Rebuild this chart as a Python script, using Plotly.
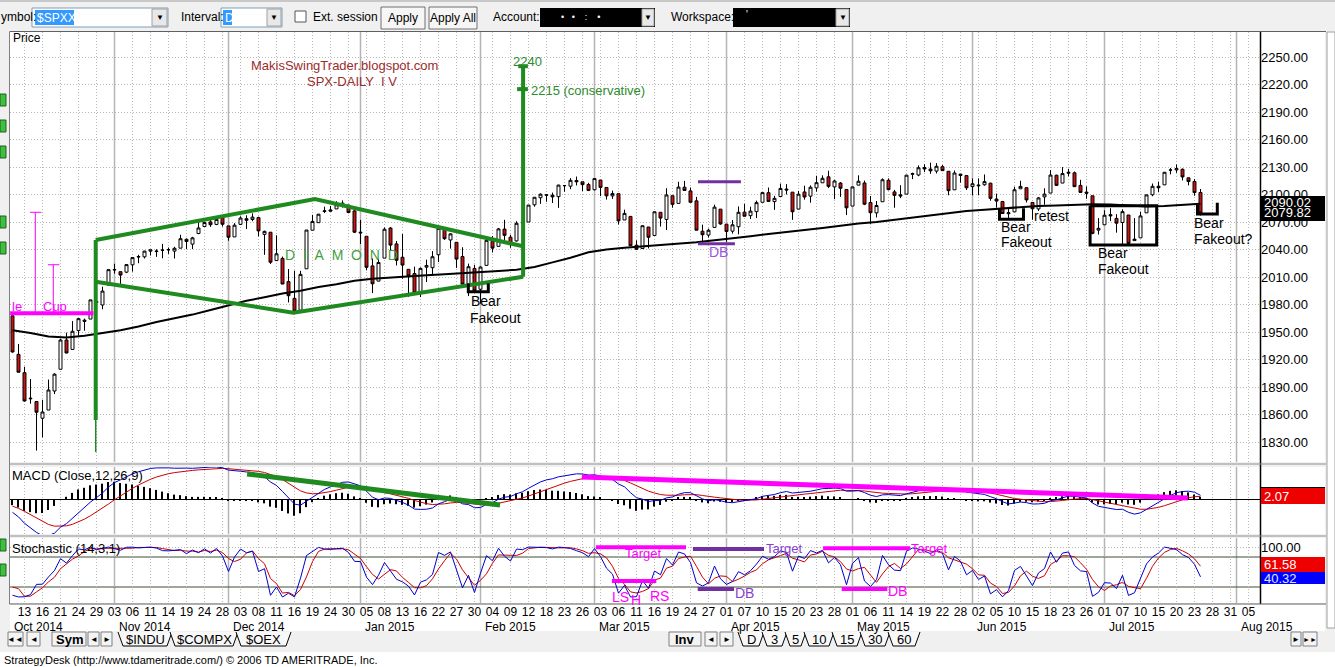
import pandas as pd
import numpy as np
import plotly.graph_objects as go

W, H = 1335, 667
FONT = "Liberation Sans, Arial, sans-serif"

# ---------------- data ----------------
holidays = ["2014-11-27", "2014-12-25", "2015-01-01", "2015-01-19",
            "2015-02-16", "2015-04-03", "2015-05-25", "2015-07-03"]
all_days = [d for d in pd.bdate_range("2014-10-09", "2015-08-05")
            if d.strftime("%Y-%m-%d") not in holidays]

open_ = [1967.68,1925.63,1905.65,1877.11,1874.18,1855.95,1864.91,1885.62,1909.38,1941.29,1931.02,1951.59,1962.97,1964.14,1983.29,1979.49,2001.20,
 2018.21,2015.81,2015.29,2023.33,2032.36,2032.01,2038.20,2037.75,2039.21,2039.74,2038.29,2041.48,2051.16,2045.87,2057.46,2065.07,2070.15,2067.36,2074.78,
 2065.78,2053.77,2067.45,2073.64,2072.78,2074.84,2056.55,2058.86,2027.92,2030.36,2005.03,1986.71,1973.77,2018.98,2061.04,2069.28,2081.48,2083.25,2084.30,2087.63,2088.49,2082.11,
 2058.90,2054.44,2022.15,2005.55,2030.61,2063.45,2046.13,2031.58,2018.40,2013.75,1992.25,2020.76,2020.19,2034.30,2062.98,2050.42,2047.86,2032.34,2002.45,2019.35,
 1996.67,2022.71,2048.86,2043.45,2062.28,2053.47,2049.38,2068.55,2069.98,2088.78,2096.47,2099.16,2099.25,2097.65,2109.83,2109.10,2115.30,2113.91,2110.88,
 2105.23,2115.76,2107.72,2098.54,2100.91,2072.25,2076.14,2044.69,2041.10,2064.56,2055.35,2080.59,2072.84,2098.69,2090.32,2107.99,2103.94,2093.10,2059.94,2055.78,2064.11,2084.05,
 2067.63,2060.03,2064.87,2080.79,2076.94,2081.29,2091.51,2102.03,2092.28,2097.82,2105.96,2102.58,2084.11,2102.82,2098.27,2107.21,2112.80,2119.29,2108.35,2112.49,2105.52,
 2087.38,2110.23,2112.63,2091.26,2079.96,2092.13,2115.56,2102.87,2099.62,2100.43,2122.07,2121.30,2129.45,2127.79,2125.55,2130.36,2125.34,2105.13,2122.27,2120.66,
 2108.64,2110.41,2110.64,2112.35,2095.09,2092.34,2079.07,2081.12,2106.24,2107.43,2091.34,2084.26,2097.40,2101.58,2121.06,2112.50,2123.16,2123.65,2109.96,2102.62,2098.63,2061.19,
 2067.00,2078.03,2073.95,2069.52,2077.66,2049.73,2052.74,2080.03,2099.72,2109.01,2110.55,2126.80,2126.85,2127.55,2118.21,2114.16,2102.24]
high = [1967.68,1936.98,1912.09,1898.71,1874.18,1876.01,1898.16,1905.03,1942.45,1949.31,1961.95,1965.27,1964.64,1985.05,1991.40,1999.40,2018.19,
 2024.46,2015.98,2023.77,2031.61,2034.26,2038.70,2039.82,2040.33,2046.18,2042.22,2043.07,2056.08,2052.14,2053.84,2071.46,2070.17,2074.21,2073.29,2075.76,
 2065.78,2068.77,2076.28,2077.34,2079.47,2075.78,2060.60,2058.86,2055.53,2032.25,2018.69,2016.89,2016.75,2061.23,2077.85,2078.76,2086.73,2087.56,2092.70,2093.55,2088.49,2085.58,
 2072.36,2054.44,2030.25,2029.61,2064.08,2064.43,2049.30,2056.93,2018.40,2021.35,2020.46,2028.94,2038.29,2064.62,2062.98,2057.62,2047.86,2042.49,2024.64,2023.32,
 2021.66,2050.30,2054.74,2063.55,2072.40,2056.16,2070.86,2073.48,2088.53,2097.03,2101.30,2100.23,2102.13,2110.61,2110.05,2117.94,2119.59,2113.91,2112.74,
 2117.52,2115.76,2107.72,2104.25,2100.91,2083.49,2076.14,2050.08,2066.41,2064.56,2081.41,2080.59,2106.85,2098.69,2113.92,2114.86,2107.63,2097.43,2067.15,2062.83,2088.97,2084.05,
 2067.63,2072.17,2086.99,2089.81,2086.69,2093.31,2102.61,2107.65,2098.62,2111.91,2111.30,2102.58,2103.94,2109.64,2109.98,2120.49,2120.92,2125.92,2116.04,2113.65,2105.52,
 2108.41,2120.95,2115.24,2098.42,2092.90,2117.66,2117.69,2105.06,2110.19,2121.45,2123.89,2131.78,2133.02,2134.72,2134.28,2132.15,2125.34,2126.22,2122.27,2120.66,
 2117.61,2117.59,2121.92,2112.89,2100.99,2093.01,2085.62,2108.50,2115.02,2107.43,2091.34,2097.40,2106.79,2126.65,2121.64,2129.87,2128.03,2125.10,2116.04,2108.92,2098.63,2074.28,
 2082.78,2085.06,2078.61,2083.74,2077.66,2074.28,2081.31,2099.88,2111.98,2114.14,2124.42,2128.91,2132.82,2128.49,2118.51,2116.87,2106.01]
low = [1927.56,1906.05,1874.14,1871.79,1820.66,1835.02,1864.91,1882.30,1909.38,1926.83,1931.02,1946.27,1951.37,1964.14,1969.04,1974.75,2001.20,
 2013.68,2001.01,2014.42,2015.86,2025.07,2030.17,2033.42,2031.95,2030.44,2035.20,2030.20,2041.48,2040.37,2040.49,2056.75,2065.07,2064.75,2066.62,2065.06,
 2049.57,2053.77,2066.65,2062.34,2070.81,2054.27,2034.17,2024.26,2027.92,2002.33,1982.26,1972.56,1973.77,2018.98,2061.03,2069.28,2079.77,2081.86,2084.30,2085.75,2079.53,2057.94,
 2046.04,2017.34,1992.44,2005.55,2030.61,2038.33,2022.58,2008.25,1988.44,1991.47,1988.12,2004.49,2012.04,2026.38,2050.54,2040.97,2019.91,2001.49,1989.18,1993.38,
 1980.90,2022.71,2036.72,2043.45,2049.97,2041.88,2048.62,2057.99,2069.98,2086.70,2089.80,2092.15,2090.79,2085.44,2103.00,2105.87,2109.89,2103.76,2103.75,
 2104.50,2098.26,2094.49,2095.22,2067.27,2072.21,2044.16,2039.69,2041.10,2041.17,2055.35,2065.08,2061.23,2085.56,2090.32,2104.42,2091.50,2061.05,2045.50,2052.96,2064.11,2067.04,
 2048.38,2057.32,2056.52,2076.10,2073.30,2074.29,2091.51,2092.33,2083.24,2097.82,2100.02,2072.37,2084.11,2094.38,2091.05,2103.19,2112.80,2107.04,2094.89,2097.41,2077.59,
 2087.38,2110.23,2088.46,2067.93,2074.99,2092.13,2104.58,2085.57,2096.04,2100.43,2116.81,2120.01,2124.50,2122.59,2122.95,2126.06,2099.18,2105.13,2112.86,2104.89,
 2099.14,2099.14,2109.61,2093.23,2085.67,2079.11,2072.14,2081.12,2106.24,2091.33,2072.49,2082.10,2088.86,2101.58,2109.45,2112.50,2119.89,2108.58,2101.78,2095.38,2056.64,2056.32,
 2067.00,2071.02,2058.40,2044.02,2044.66,2049.73,2052.74,2080.03,2098.18,2102.49,2110.55,2122.01,2123.66,2115.40,2110.00,2098.63,2077.09]
close = [1928.21,1906.13,1874.74,1877.70,1862.49,1862.76,1886.76,1904.01,1941.28,1927.11,1950.82,1964.58,1961.63,1985.05,1982.30,1994.65,2018.05,
 2017.81,2012.10,2023.57,2031.21,2031.92,2038.26,2039.68,2038.25,2039.33,2039.82,2041.32,2051.80,2048.72,2052.75,2063.50,2069.41,2067.03,2072.83,2067.56,
 2053.44,2066.55,2074.33,2071.92,2075.37,2060.31,2059.82,2026.14,2035.33,2002.33,1989.63,1972.74,2012.89,2061.23,2070.65,2078.54,2082.17,2081.88,2088.77,2090.57,2080.35,2058.90,
 2058.20,2020.58,2002.61,2025.90,2062.14,2044.81,2028.26,2023.03,2011.27,1992.67,2019.42,2022.55,2032.12,2063.15,2051.82,2057.09,2029.55,2002.16,2021.25,1994.99,
 2020.85,2050.03,2041.51,2062.52,2055.47,2046.74,2068.59,2068.53,2088.48,2096.99,2100.34,2099.68,2097.45,2110.30,2109.66,2115.48,2113.86,2110.74,2104.50,
 2117.39,2107.78,2098.53,2101.04,2071.26,2079.43,2044.16,2040.24,2065.95,2053.40,2081.19,2074.28,2099.50,2089.27,2108.10,2104.42,2091.50,2061.05,2056.15,2061.02,2086.24,2067.89,
 2059.69,2066.96,2080.62,2076.33,2081.90,2091.18,2102.06,2092.43,2095.84,2106.63,2104.99,2081.18,2100.40,2097.29,2107.96,2112.93,2117.69,2108.92,2114.76,2106.85,2085.51,
 2108.29,2114.49,2089.46,2080.15,2088.00,2116.10,2105.33,2099.12,2098.48,2121.10,2122.73,2129.20,2127.83,2125.85,2130.82,2126.06,2104.20,2123.48,2120.79,2107.39,
 2111.73,2109.60,2114.07,2095.84,2092.83,2079.28,2080.15,2105.20,2108.86,2094.11,2084.43,2096.29,2100.44,2121.24,2109.99,2122.85,2124.20,2108.58,2102.31,2101.49,2057.64,2063.11,
 2077.42,2076.78,2068.76,2081.34,2046.68,2051.31,2076.62,2099.60,2108.95,2107.40,2124.29,2126.64,2128.28,2119.21,2114.15,2102.15,2079.82]

# closes before the first visible bar (Jul 1 - Oct 8, 2014), used only to warm up the indicators
warm_close = [1973.32,1974.62,1985.44,1977.65,1963.71,1972.83,1964.68,1967.57,1977.10,1973.28,1981.57,1958.12,1978.22,1973.63,1983.53,1987.01,1987.98,1978.34,1978.91,1969.95,1970.07,1930.67,
 1925.15,1938.99,1920.21,1920.24,1909.57,1931.59,1936.92,1933.75,1946.72,1955.18,1955.06,1971.74,1981.60,1986.51,1992.37,1988.40,1997.92,2000.02,2000.12,1996.74,2003.37,
 2002.28,2000.72,1997.65,2007.71,2001.54,1988.44,1995.69,1997.45,1985.54,1984.13,1998.98,2001.57,2011.36,2010.40,1994.29,1982.77,1998.30,1965.99,1982.85,1977.80,1972.29,
 1946.16,1946.17,1967.90,1964.82,1935.10,1968.89]
# highs / lows Sep 18 - Oct 8, 2014 (last 15 warm-up bars)
warm_high = [2012.34,2019.26,2009.08,1995.41,1999.79,1997.32,1986.37,1978.63,1985.17,1971.99,1952.32,1971.19,1977.84,1962.36,1970.36]
warm_low = [2003.98,2006.59,1991.01,1982.26,1978.63,1965.99,1968.04,1964.04,1968.96,1941.72,1926.03,1947.12,1958.43,1934.87,1925.25]

# moving average (every 3rd bar)
ma_idx = list(range(0, 199, 3))
ma_val = [1952,1949,1945,1944,1946,1949,1952,1956,1961,1965,1969,1974,1979,1984,1988,1992,1995,1999,2002,2006,
          2008,2009.5,2011,2012,2013,2014,2015,2016.5,2018,2021,2026,2031,2037,2040,2042,2043.5,2044.5,2046,2048,2050,
          2052,2054.5,2057,2059,2061,2063.5,2066,2068.5,2070,2072.5,2075,2077.5,2080,2082,2083.5,2085,2086.5,2087.5,2088,2089,
          2089.5,2089,2088,2087,2087.5,2089,2090]

# drawn annotations (bar index, price)
diamond_x = [13.87, 50.4, 85.1, None, 13.87, 46.8, 85.1, None, 13.87, 13.87, None, 85.1, 85.1, None, 84.3, 85.9, None, 84.1, 85.9]
diamond_y = [2050.4, 2095.1, 2043.5, None, 2004.9, 1971.1, 2010.3, None, 2050.4, 1854, None, 2010.3, 2241, None, 2240, 2240, None, 2215, 2215]
diamond_thin_x = [13.87, 13.87]
diamond_thin_y = [1854, 1819]
cup_x = [-0.4, 13.5, None, 3.8, 3.8, None, 2.9, 4.8, None, 6.8, 6.8, None, 5.9, 7.8]
cup_y = [1970.4, 1970.4, None, 1970.4, 2080.6, None, 2080.6, 2080.6, None, 1970.4, 2023.4, None, 2023.4, 2023.4]
db_x = [114.25, 121.4, None, 114.25, 120.4]
db_y = [2114, 2114, None, 2046.3, 2046.3]
box_x = [75.97, 75.97, 79.3, 79.3, None, 164.5, 164.5, 168.5, 168.5, None,
         179.6, 179.6, 190.7, 190.7, 179.6, None, 197.5, 197.5, 200.8, 200.8]
box_y = [2003, 1994, 1994, 2003, None, 2085, 2073, 2073, 2085, None,
         2087.8, 2044.9, 2044.9, 2087.8, 2087.8, None, 2088.6, 2078.7, 2078.7, 2091]
macd_green_x = [39.1, 81.25]
macd_green_y = [20, -4.8]
macd_pink_x = [94.9, 195.9]
macd_pink_y = [17.6, 0.8]
sto_pink_x = [97.25, 112.25, None, 99.9, 107.3, None, 135.1, 149.6, None, 138.2, 145.8]
sto_pink_y = [99.4, 99.4, None, 32, 32, None, 97.4, 97.4, None, 16, 16]
sto_purple_x = [113.4, 125.25, None, 114.2, 120.25]
sto_purple_y = [96, 96, None, 16, 16]

# ---------------- indicators ----------------
n = len(close)
idx = list(range(n))
cl_all = pd.Series(warm_close + close)
ema12 = cl_all.ewm(span=12, adjust=False).mean()
ema26 = cl_all.ewm(span=26, adjust=False).mean()
macd_all = ema12 - ema26
sig_all = macd_all.ewm(span=9, adjust=False).mean()
macd = macd_all.iloc[-n:].tolist()
signal = sig_all.iloc[-n:].tolist()
hist = (macd_all - sig_all).iloc[-n:].tolist()

hi_all = pd.Series(warm_high + high)
lo_all = pd.Series(warm_low + low)
c_all = pd.Series(warm_close[-len(warm_high):] + close)
hh = hi_all.rolling(14).max()
ll = lo_all.rolling(14).min()
k_all = 100 * (c_all - ll) / (hh - ll)
d_all = k_all.rolling(3).mean()
stoch_k = k_all.iloc[-n:].tolist()
stoch_d = d_all.iloc[-n:].tolist()

# axis ticks
tick_idx = list(range(2, len(all_days), 3))
tick_txt = [all_days[i].strftime("%d") for i in tick_idx]
month_starts = [i for i in range(1, len(all_days)) if all_days[i].month != all_days[i - 1].month]

# ---------------- geometry helpers ----------------
def px(x):
    return x / W

def py(y):
    return 1 - y / H

XL, XR = 10, 1260
XRANGE = [(XL - 12.5) / 6, (XR - 12.5) / 6]

fig = go.Figure()

fig.add_trace(go.Candlestick(
    x=idx, open=open_, high=high, low=low, close=close,
    increasing=dict(line=dict(color="black", width=1), fillcolor="white"),
    decreasing=dict(line=dict(color="black", width=1), fillcolor="#d01010"),
    whiskerwidth=0, xaxis="x", yaxis="y", hoverinfo="skip"))
fig.add_trace(go.Scatter(x=ma_idx, y=ma_val, mode="lines", line=dict(color="black", width=2),
                         xaxis="x", yaxis="y", hoverinfo="skip"))
fig.add_trace(go.Scatter(x=diamond_x, y=diamond_y, mode="lines", line=dict(color="#1f8a1f", width=4),
                         xaxis="x", yaxis="y", hoverinfo="skip"))
fig.add_trace(go.Scatter(x=diamond_thin_x, y=diamond_thin_y, mode="lines", line=dict(color="#1f8a1f", width=1.5),
                         xaxis="x", yaxis="y", hoverinfo="skip"))
fig.add_trace(go.Scatter(x=cup_x[:2], y=cup_y[:2], mode="lines", line=dict(color="#ff00ff", width=4),
                         xaxis="x", yaxis="y", hoverinfo="skip"))
fig.add_trace(go.Scatter(x=cup_x[3:], y=cup_y[3:], mode="lines", line=dict(color="#ff00ff", width=1),
                         xaxis="x", yaxis="y", hoverinfo="skip"))
fig.add_trace(go.Scatter(x=db_x, y=db_y, mode="lines", line=dict(color="#7030a0", width=3),
                         xaxis="x", yaxis="y", hoverinfo="skip"))
fig.add_trace(go.Scatter(x=box_x, y=box_y, mode="lines", line=dict(color="black", width=3),
                         xaxis="x", yaxis="y", hoverinfo="skip"))

# MACD
fig.add_trace(go.Bar(x=idx, y=hist, marker=dict(color="black", line=dict(width=0)), width=0.17,
                     xaxis="x2", yaxis="y2", hoverinfo="skip"))
fig.add_trace(go.Scatter(x=idx, y=signal, mode="lines", line=dict(color="#cc0000", width=1),
                         xaxis="x2", yaxis="y2", hoverinfo="skip"))
fig.add_trace(go.Scatter(x=idx, y=macd, mode="lines", line=dict(color="#0000cc", width=1),
                         xaxis="x2", yaxis="y2", hoverinfo="skip"))
fig.add_trace(go.Scatter(x=macd_green_x, y=macd_green_y, mode="lines", line=dict(color="#1f8a1f", width=5),
                         xaxis="x2", yaxis="y2", hoverinfo="skip"))
fig.add_trace(go.Scatter(x=macd_pink_x, y=macd_pink_y, mode="lines", line=dict(color="#ff00ff", width=5),
                         xaxis="x2", yaxis="y2", hoverinfo="skip"))

# Stochastic
fig.add_trace(go.Scatter(x=idx, y=stoch_d, mode="lines", line=dict(color="#cc0000", width=1),
                         xaxis="x3", yaxis="y3", hoverinfo="skip"))
fig.add_trace(go.Scatter(x=idx, y=stoch_k, mode="lines", line=dict(color="#0000cc", width=1),
                         xaxis="x3", yaxis="y3", hoverinfo="skip"))
fig.add_trace(go.Scatter(x=sto_pink_x, y=sto_pink_y, mode="lines", line=dict(color="#ff00ff", width=4),
                         xaxis="x3", yaxis="y3", hoverinfo="skip"))
fig.add_trace(go.Scatter(x=sto_purple_x, y=sto_purple_y, mode="lines", line=dict(color="#7030a0", width=4),
                         xaxis="x3", yaxis="y3", hoverinfo="skip"))

GRID = dict(showgrid=True, gridcolor="#b8b8b8", griddash="1px,2px", gridwidth=1)
xcommon = dict(range=XRANGE, domain=[px(XL), px(XR)], tickmode="array", tickvals=tick_idx,
               zeroline=False, showline=False, ticks="", fixedrange=True, **GRID)

fig.update_layout(
    width=W, height=H, margin=dict(l=0, r=0, t=0, b=0),
    paper_bgcolor="#f0f0f0", plot_bgcolor="white", showlegend=False, hovermode=False,
    font=dict(family=FONT, size=12, color="black"),
    xaxis=dict(anchor="y", showticklabels=False, rangeslider=dict(visible=False), **xcommon),
    xaxis2=dict(anchor="y2", matches="x", showticklabels=False, **xcommon),
    xaxis3=dict(anchor="y3", matches="x", showticklabels=True, ticktext=tick_txt,
                tickfont=dict(size=12, family=FONT), **xcommon),
    yaxis=dict(anchor="x", domain=[py(462), py(32)], range=[1808.2, 2277.3], side="right",
               tickmode="array", tickvals=list(range(1830, 2251, 30)),
               ticktext=["%.2f" % v for v in range(1830, 2251, 30)],
               tickfont=dict(size=13, family=FONT), ticks="", zeroline=False, fixedrange=True, **GRID),
    yaxis2=dict(anchor="x2", domain=[py(534), py(467)], range=[-28, 25.6], side="right",
                showticklabels=False, showgrid=False, zeroline=True, zerolinecolor="black",
                zerolinewidth=1, fixedrange=True),
    yaxis3=dict(anchor="x3", domain=[py(603), py(538)], range=[-12, 118], side="right",
                tickmode="array", tickvals=[100], ticktext=["100.00"], tickfont=dict(size=13, family=FONT),
                ticks="", zeroline=False, fixedrange=True, **GRID),
)

shapes = []
annots = []

def prect(x0, y0, x1, y1, fill, line=None, lw=1, layer="below"):
    shapes.append(dict(type="rect", xref="paper", yref="paper", x0=px(x0), x1=px(x1), y0=py(y0), y1=py(y1),
                       fillcolor=fill, line=dict(color=line if line else fill, width=lw if line else 0),
                       layer=layer))

def pline(x0, y0, x1, y1, color, w=1, layer="above"):
    shapes.append(dict(type="line", xref="paper", yref="paper", x0=px(x0), x1=px(x1), y0=py(y0), y1=py(y1),
                       line=dict(color=color, width=w), layer=layer))

def ptext(x, y, text, size=12, color="black", xanchor="left", bg=None):
    a = dict(xref="paper", yref="paper", x=px(x), y=py(y), text=text, showarrow=False,
             xanchor=xanchor, yanchor="middle", font=dict(size=size, color=color, family=FONT), borderpad=0)
    if bg:
        a["bgcolor"] = bg
    annots.append(a)

def dtext(xr, yr, x, y, text, size=13, color="black", xanchor="left"):
    annots.append(dict(xref=xr, yref=yr, x=x, y=y, text=text, showarrow=False, xanchor=xanchor,
                       yanchor="middle", font=dict(size=size, color=color, family=FONT), borderpad=0))

# white areas: axis label columns, date label row, right strip
prect(1261, 32, 1325, 462, "white")
prect(1261, 467, 1325, 534, "white")
prect(1261, 538, 1325, 603, "white")
prect(10, 604, 1325, 631, "white")
prect(1327, 32, 1335, 628, "white", "#a0a0a0")
prect(0, 652, 1335, 667, "white")

# month separators in each panel
for xr, yr in [("x", "y"), ("x2", "y2"), ("x3", "y3")]:
    rng = {"y": [1808.2, 2277.3], "y2": [-28, 25.6], "y3": [-12, 118]}[yr]
    for m in month_starts:
        shapes.append(dict(type="line", xref=xr, yref=yr, x0=m, x1=m, y0=rng[0], y1=rng[1],
                           line=dict(color="#b4b4b4", width=1.5), layer="below"))
# stochastic 80 / 20 lines
for lv in [80, 20]:
    shapes.append(dict(type="line", xref="x3", yref="y3", x0=XRANGE[0], x1=XRANGE[1], y0=lv, y1=lv,
                       line=dict(color="#3c4f32", width=1), layer="below"))

# frame lines
pline(1260.5, 32, 1260.5, 604, "black", 1.5)
pline(9.5, 32, 9.5, 604, "#808080", 1)
pline(9.5, 31.5, 1326, 31.5, "#606060", 1)
pline(9.5, 464, 1326, 464, "#909090", 1)
pline(9.5, 536, 1326, 536, "#909090", 1)
pline(9.5, 604, 1326, 604, "#606060", 1)

# right-hand value boxes
prect(1261, 196, 1325, 221, "black", layer="above")
ptext(1263, 202, "2090.02", 13, "white")
ptext(1263, 212, "2079.82", 13, "white")
prect(1261, 488, 1325, 504, "#ee0000", layer="above")
pline(1261, 487.5, 1325, 487.5, "black", 1)
ptext(1263, 496, "2.07", 13, "white")
prect(1261, 557, 1325, 572, "#ee0000", layer="above")
ptext(1263, 564.5, "61.58", 13, "white")
prect(1261, 572, 1325, 584, "#0000ff", layer="above")
ptext(1263, 578, "40.32", 13, "#dde6ff")

# panel titles
ptext(12, 38, "Price", 12)
ptext(11, 475, "MACD (Close,12,26,9)", 13)
ptext(11, 548, "Stochastic (14,3,1)", 13)

# month labels
for m in [0] + month_starts:
    xpix = 12.5 + 6 * m + (3 if m > 0 else 0)
    ptext(xpix, 627, all_days[m].strftime("%b %Y"), 12)

# chart annotations (price panel)
dtext("x", "y", 55.4, 2241.3, "MakisSwingTrader.blogspot.com", 13, "#9b2c2c", "center")
dtext("x", "y", 56.6, 2223.8, "SPX-DAILY  I V", 13, "#9b2c2c", "center")
dtext("x", "y", 85.9, 2245, "2240", 13, "#2e8b2e", "center")
dtext("x", "y", 86.2, 2213.2, "2215 (conservative)", 13, "#2e8b2e")
dtext("x", "y", 54.8, 2034, "D\u00a0\u00a0I\u00a0\u00a0A\u00a0\u00a0M\u00a0\u00a0O\u00a0\u00a0N\u00a0\u00a0D", 14, "#3f9f3f", "center")
dtext("x", "y", -0.3, 1978, "le", 13, "#ff00ff")
dtext("x", "y", 4.9, 1978, "Cup", 13, "#ff00ff")
dtext("x", "y", 117.6, 2037, "DB", 14, "#9955dd", "center")
dtext("x", "y", 76.2, 1984, "Bear", 14)
dtext("x", "y", 76.0, 1965.5, "Fakeout", 14)
dtext("x", "y", 164.5, 2065, "Bear", 14)
dtext("x", "y", 164.5, 2048.5, "Fakeout", 14)
dtext("x", "y", 170.1, 2076.5, "retest", 14)
dtext("x", "y", 180.8, 2036.2, "Bear", 14)
dtext("x", "y", 180.8, 2018.4, "Fakeout", 14)
dtext("x", "y", 196.7, 2068.6, "Bear", 14)
dtext("x", "y", 196.7, 2051.5, "Fakeout?", 14)

# stochastic annotations
dtext("x3", "y3", 105.1, 88, "Target", 13, "#ff00ff", "center")
dtext("x3", "y3", 101.3, 0, "LS", 14, "#ff00ff", "center")
dtext("x3", "y3", 103.9, -6, "H", 14, "#ff00ff", "center")
dtext("x3", "y3", 107.8, 2, "RS", 14, "#ff00ff", "center")
dtext("x3", "y3", 125.4, 98, "Target", 13, "#8b3fd0")
dtext("x3", "y3", 120.3, 9, "DB", 14, "#8b3fd0")
dtext("x3", "y3", 149.6, 98, "Target", 13, "#ff00ff")
dtext("x3", "y3", 145.8, 12, "DB", 14, "#ff00ff")

# ---------------- toolbar (top) ----------------
ptext(0, 17, "ymbol:", 12)
prect(32, 8, 168, 27, "white", "#7f9db9")
prect(35, 10, 74, 25, "#3399ff")
ptext(36, 17.5, "$SPXX", 12, "white")
prect(152, 9, 167, 26, "#e8e8e8", "#a0a0a0")
ptext(159.5, 17.5, "\u25bc", 8, "black", "center")
ptext(180, 17, "Interval:", 12)
prect(221, 8, 282, 27, "white", "#7f9db9")
prect(223, 10, 232, 25, "#3399ff")
ptext(224, 17.5, "D", 12, "white")
prect(267, 9, 281, 26, "#e8e8e8", "#a0a0a0")
ptext(274, 17.5, "\u25bc", 8, "black", "center")
prect(295, 11, 306, 22, "white", "#555555")
ptext(312, 17, "Ext. session", 12)
prect(381, 7, 425, 29, "#f6f6f6", "#707070")
ptext(403, 18, "Apply", 12, "black", "center")
prect(429, 7, 477, 29, "#f6f6f6", "#707070")
ptext(453, 18, "Apply All", 12, "black", "center")
ptext(492, 17, "Account:", 12)
prect(540, 8, 655, 27, "black")
ptext(560, 17, "\u2022\u00a0\u00a0\u00a0\u2022\u00a0\u00a0\u00a0\u00a0:\u00a0\u00a0\u00a0\u00a0\u2022", 9, "white")
prect(642, 9, 654, 26, "#e8e8e8", "#a0a0a0")
ptext(648, 17.5, "\u25bc", 8, "black", "center")
ptext(670, 17, "Workspace:", 12)
prect(733, 8, 850, 27, "black")
ptext(745, 15, "'", 10, "white")
prect(836, 9, 849, 26, "#e8e8e8", "#a0a0a0")
ptext(842.5, 17.5, "\u25bc", 8, "black", "center")
pline(0, 1, 1335, 1, "#a0a0a0", 1)

# left tool strip icons
for yy in [100, 126, 152, 222, 248, 545, 570]:
    prect(0, yy - 6, 6, yy + 6, "#3fbf3f", "#206020", layer="above")

# ---------------- bottom tabs ----------------
def button(x0, x1, label, size=12, bold=False):
    prect(x0, 632, x1, 646, "#f4f4f4", "#808080")
    ptext((x0 + x1) / 2, 639, ("<b>%s</b>" % label) if bold else label, size, "black", "center")

button(8, 23, "\u25c4\u25c4", 8)
button(27, 40, "\u25c4", 8)
button(52, 86, "Sym", 13, True)
button(88, 99, "\u25c4", 8)
button(101, 112, "\u25ba", 8)
button(669, 701, "Inv", 13, True)
button(705, 717, "\u25c4", 8)
button(720, 733, "\u25ba", 8)
button(1291, 1301, "\u25ba", 8)
button(1303, 1317, "\u25ba\u25ba", 7)

def tab(x0, x1, label):
    shapes.append(dict(type="path", xref="paper", yref="paper",
                       path="M %f %f L %f %f L %f %f L %f %f" % (px(x0), py(632), px(x0 + 5), py(646),
                                                                  px(x1 - 5), py(646), px(x1), py(632)),
                       line=dict(color="black", width=1), fillcolor="#f8f8f8", layer="below"))
    ptext((x0 + x1) / 2, 639, label, 13, "black", "center")

for x0, x1, lab in [(118, 172, "$INDU"), (170, 238, "$COMPX"), (236, 291, "$OEX"),
                    (738, 764, "D"), (762, 787, "3"), (785, 806, "5"), (804, 834, "10"),
                    (832, 862, "15"), (860, 890, "30"), (888, 920, "60")]:
    tab(x0, x1, lab)

ptext(3, 660, "StrategyDesk (http://www.tdameritrade.com/) \u00a9 2006 TD AMERITRADE, Inc.", 11)

fig.update_layout(shapes=shapes, annotations=annots)
fig.write_html("out.html", config={"displayModeBar": False},
               post_script="document.body.style.margin='0';document.body.style.overflow='hidden';")
